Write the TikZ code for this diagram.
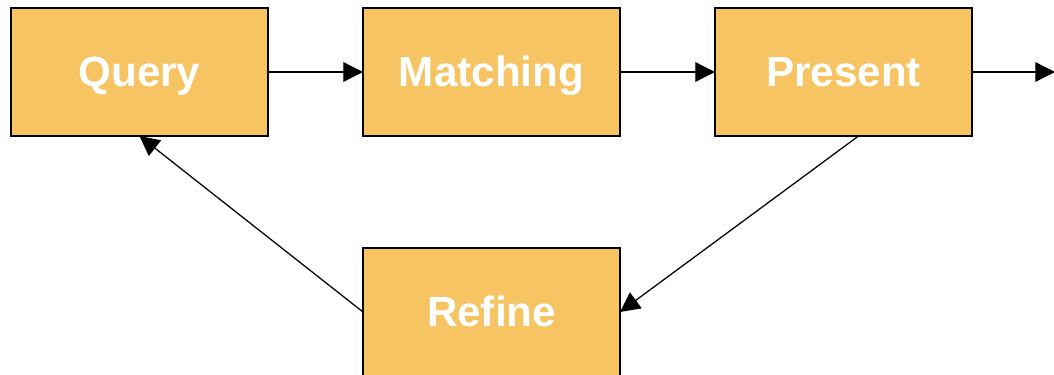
\documentclass[tikz,border=0pt]{standalone}
\usepackage{fontspec}
\setmainfont{Liberation Sans}
\usetikzlibrary{positioning,arrows.meta}
\definecolor{boxfill}{RGB}{246,196,98}
\begin{document}
\begin{tikzpicture}[node distance={2.375cm}, main/.style = {draw, line width=0.9pt, fill=boxfill, minimum width=6.425cm, minimum height=3.2cm, inner sep=0pt, outer sep=0pt, text height=27pt, text depth=7pt, text=white, font=\fontsize{30}{36}\selectfont\bfseries}, >={Triangle[length=14pt,width=14pt]}]
\useasboundingbox (0,0) rectangle (26.35,-9.35);
\clip (0,0) rectangle (26.35,-9.35);
\node[main] (query) at (3.4875,-1.8) {Query};
\node[main] (matching) [right=of query] {Matching};
\node[main] (present) [right=of matching] {Present};
\node[main] (refine) [below=2.8cm of matching] {Refine};
\coordinate[right=2.075cm of present] (out);
\draw[->, line width=0.9pt] (query) -- (matching);
\draw[->, line width=0.9pt] (matching) -- (present);
\draw[->, line width=0.9pt] (present) -- (out);
\draw[->, line width=0.9pt] ([xshift=0.375cm]present.south) -- (refine.east);
\draw[->, line width=0.9pt] (refine.west) -- (query.south);
\end{tikzpicture}
\end{document}
